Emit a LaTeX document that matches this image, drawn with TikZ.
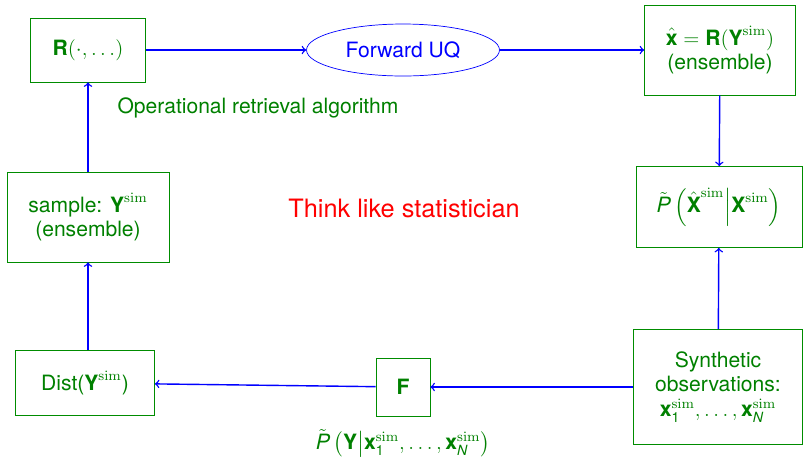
\documentclass[tikz,border=0pt]{standalone}
\usepackage{amsmath}
\usepackage[no-math]{fontspec}
\setmainfont{TeX Gyre Heros}
\usetikzlibrary{shapes.geometric}
\newcommand{\bsf}[1]{\text{\bfseries #1}}
\newcommand{\ssim}{\mathrm{sim}}
\colorlet{boxgreen}{green!55!black}
\colorlet{txtgreen}{green!50!black}
\tikzset{
  blockbox/.style={draw=boxgreen, text=txtgreen, align=center, inner sep=2pt},
  flow/.style={->, blue, thick},
}
\begin{document}
\begin{tikzpicture}[x=0.02cm, y=-0.02cm, font=\large]
    \useasboundingbox (0,0) rectangle (803,461);

    % top row
    \node[blockbox, minimum width=2.3cm, minimum height=1.28cm] (R) at (88,50)
        {$\bsf{R}(\cdot,\ldots)$};
    \node[draw=blue, text=blue, ellipse, minimum width=3.86cm, minimum height=1.04cm]
        (fuq) at (403,50) {Forward UQ};
    \node[blockbox, minimum width=3.02cm, minimum height=1.8cm] (xhat) at (720,50)
        {$\hat{\bsf{x}} = \bsf{R}(\bsf{Y}^{\ssim})$\\(ensemble)};

    % middle row
    \node[blockbox, minimum width=3.24cm, minimum height=1.8cm] (samp) at (88,217)
        {sample: $\bsf{Y}^{\ssim}$\\(ensemble)};
    \node[blockbox, minimum width=3.32cm, minimum height=1.62cm] (post) at (719,207)
        {$\tilde{\text{\itshape P}}\left(\hat{\bsf{X}}^{\ssim}\middle|\bsf{X}^{\ssim}\right)$};

    % bottom row
    \node[blockbox, minimum width=2.78cm, minimum height=1.3cm] (dist) at (85,383)
        {Dist($\bsf{Y}^{\ssim}$)};
    \node[blockbox, minimum width=1.08cm, minimum height=1.16cm] (F) at (403,387)
        {$\bsf{F}$};
    \node[blockbox, minimum width=3.38cm, minimum height=2.3cm] (synth) at (718,387)
        {Synthetic\\observations:\\$\bsf{x}_{\text{1}}^{\ssim},\ldots,\bsf{x}_{\text{\itshape N}}^{\ssim}$};

    % labels
    \node[text=txtgreen] (oper) at (258,108) {Operational retrieval algorithm};
    \node[text=red, font=\Large] (think) at (404,208) {Think like statistician};
    \node[text=txtgreen] (lik) at (403,443)
        {$\tilde{\text{\itshape P}}\left(\bsf{Y}\middle|\bsf{x}_{\text{1}}^{\ssim},\ldots,\bsf{x}_{\text{\itshape N}}^{\ssim}\right)$};

    % connectors
    \draw[flow] (R) -- (fuq);
    \draw[flow] (fuq) -- (xhat);
    \draw[flow] (xhat) -- (post);
    \draw[flow] (synth) -- (post);
    \draw[flow] (synth) -- (F);
    \draw[flow] (F) -- (dist);
    \draw[flow] (dist.north -| samp.south) -- (samp.south);
    \draw[flow] (samp) -- (R);
\end{tikzpicture}
\end{document}
